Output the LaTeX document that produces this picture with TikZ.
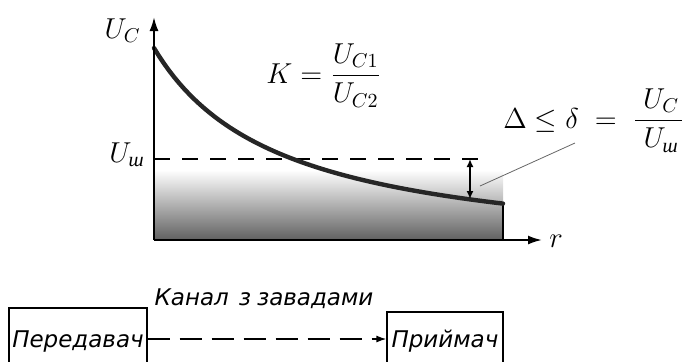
\documentclass[tikz,border=0pt]{standalone}
\usepackage{amsmath}
\usepackage{fontspec}
\newfontfamily\cyrserif{Liberation Serif}
\newfontfamily\gostfont{DejaVu Sans}
\usetikzlibrary{arrows.meta,positioning}
\newcommand{\shsub}{\text{\cyrserif\itshape ш}}

\begin{document}
\begin{tikzpicture}[x=0.5pt,y=-0.5pt,
    axis/.style={line width=1pt,-{Latex[length=7pt,width=4.5pt]}},
    signal/.style={line width=2.2pt,black!85,line cap=round},
    noise/.style={dash pattern=on 8pt off 6pt,line width=0.6pt},
    mathlbl/.style={font=\Large,inner sep=0pt},
    block/.style={draw,line width=0.6pt,font=\gostfont\itshape\fontsize{11.5}{13}\selectfont,
      text height=8.5pt,text depth=0pt,inner sep=0pt}]
  \useasboundingbox (0,0) rectangle (682,361);
  % area under the noise level
  \shade[top color=white,bottom color=black!62] (154,170) rectangle (503,240);
  \coordinate (o) at (154,240);
  \coordinate (ytop) at (154,17);
  \coordinate (xend) at (542,240);
  \coordinate (cend) at (503,204);
  \draw[line width=0.8pt] (cend) -- (503,240);
  % noise level
  \coordinate (nl) at (154,159);
  \coordinate (nr) at (483,159);
  \draw[noise] (nl) -- (nr);
  % signal curve
  \draw[signal] plot[domain=154:503,samples=70] (\x,{260-212/(1+0.0079*(\x-154))});
  % axes
  \draw[axis] (o) -- (ytop);
  \draw[axis] (o) -- (xend);
  \node[mathlbl,anchor=base west] (r) at (549,247) {$r$};
  \node[mathlbl,anchor=base east] (uc) at (141,38) {$U_C$};
  \node[mathlbl,anchor=base east] (ush) at (145,162) {$U_{\shsub}$};
  % margin
  \coordinate (dtop) at (470,159);
  \coordinate (dbot) at (470,199);
  \draw[line width=0.8pt,{Latex[length=4pt,width=3.5pt]}-{Latex[length=4pt,width=3.5pt]}] (dtop) -- (dbot);
  \node[mathlbl,anchor=base west] (k) at (266,83) {$K=\dfrac{U_{C1}}{U_{C2}}$};
  \node[mathlbl,anchor=base west] (delta) at (503,128) {$\Delta\leq\delta\;=\;\dfrac{\;U_C\;}{U_{\shsub}}$};
  \coordinate (lead) at (480,186);
  \draw[black!60,line width=0.4pt] (lead) -- (575,143);
  % channel
  \node[block,minimum width=69pt,minimum height=31pt] (tx) at (78,339) {Передавач};
  \node[block,minimum width=58pt,minimum height=27pt] (rx) at (445,339) {Приймач};
  \draw[line width=0.7pt,dash pattern=on 11pt off 5pt,-{Latex[length=5pt,width=3.5pt]}] (tx) -- (rx);
  \node[font=\gostfont\itshape\fontsize{11.5}{13}\selectfont,anchor=base] (chan) at (264,305) {Канал\hspace{5pt}з\hspace{3pt}завадами};
\end{tikzpicture}
\end{document}
